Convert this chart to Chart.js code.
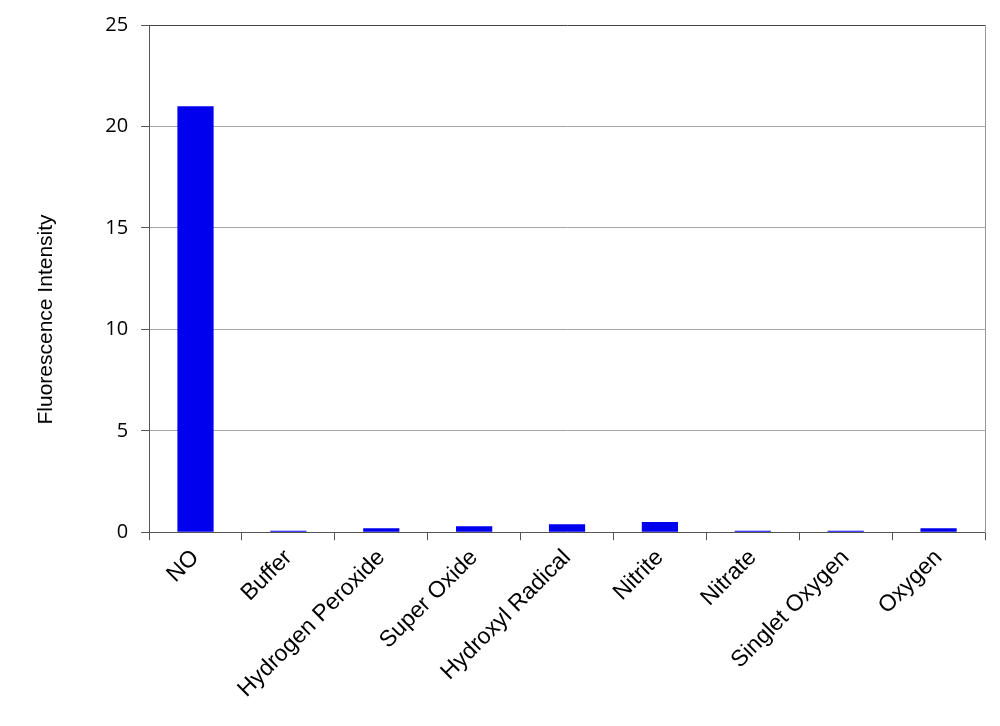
<!DOCTYPE html>
<html>
<head>
<meta charset="utf-8">
<script src="https://cdn.jsdelivr.net/npm/chart.js@4/dist/chart.umd.min.js"></script>
<style>
  html, body { margin: 0; padding: 0; background: #fff; }
  canvas { display: block; }
</style>
</head>
<body>
<canvas id="fluorescence" width="1000" height="726"></canvas>
<script>
var categories = ['NO', 'Buffer', 'Hydrogen Peroxide', 'Super Oxide', 'Hydroxyl Radical',
                  'Nitrite', 'Nitrate', 'Singlet Oxygen', 'Oxygen'];
var intensity = [21, 0.08, 0.2, 0.3, 0.4, 0.5, 0.08, 0.08, 0.2];
var yTicks = [0, 5, 10, 15, 20, 25];

var config = {
  type: 'bar',
  data: {
    labels: categories,
    datasets: [
      {
        label: 'Fluorescence Intensity',
        data: intensity,
        backgroundColor: '#0000ee',
        borderWidth: 0,
        categoryPercentage: 1.0,
        barPercentage: 0.39
      }
    ]
  },
  options: {
    responsive: false,
    animation: false,
    layout: { padding: { top: 8, right: 15, left: 30, bottom: 19 } },
    plugins: {
      legend: { display: false },
      tooltip: { enabled: false }
    },
    scales: {
      x: {
        grid: {
          offset: true,
          drawOnChartArea: false,
          drawTicks: true,
          tickLength: 8,
          color: '#555'
        },
        border: { display: true, color: '#555', width: 1 },
        ticks: {
          color: '#000',
          font: { family: 'Liberation Sans', size: 23 },
          maxRotation: 45,
          minRotation: 45,
          padding: 4
        }
      },
      y: {
        min: 0,
        max: 25,
        afterBuildTicks: function(axis) {
          axis.ticks = yTicks.map(function(v) { return { value: v }; });
        },
        grid: {
          color: function(ctx) {
            return ctx.tick && ctx.tick.value === 25 ? '#444' : '#a6a6a6';
          },
          tickColor: '#555',
          tickLength: 8
        },
        border: { display: true, color: '#555', width: 1 },
        ticks: {
          color: '#000',
          padding: 13,
          font: { family: 'Open Sans', size: 20 }
        },
        title: {
          display: true,
          // trailing spaces push the rotated title lower, as in the original
          text: 'Fluorescence Intensity              ',
          color: '#000',
          padding: { bottom: 33 },
          font: { family: 'Liberation Sans', size: 21 }
        }
      },
      yRight: {
        position: 'right',
        min: 0,
        max: 25,
        grid: { drawOnChartArea: false, drawTicks: false },
        border: { display: true, color: '#999', width: 1 },
        ticks: { display: false }
      }
    }
  }
};

new Chart(document.getElementById('fluorescence'), config);
</script>
</body>
</html>
